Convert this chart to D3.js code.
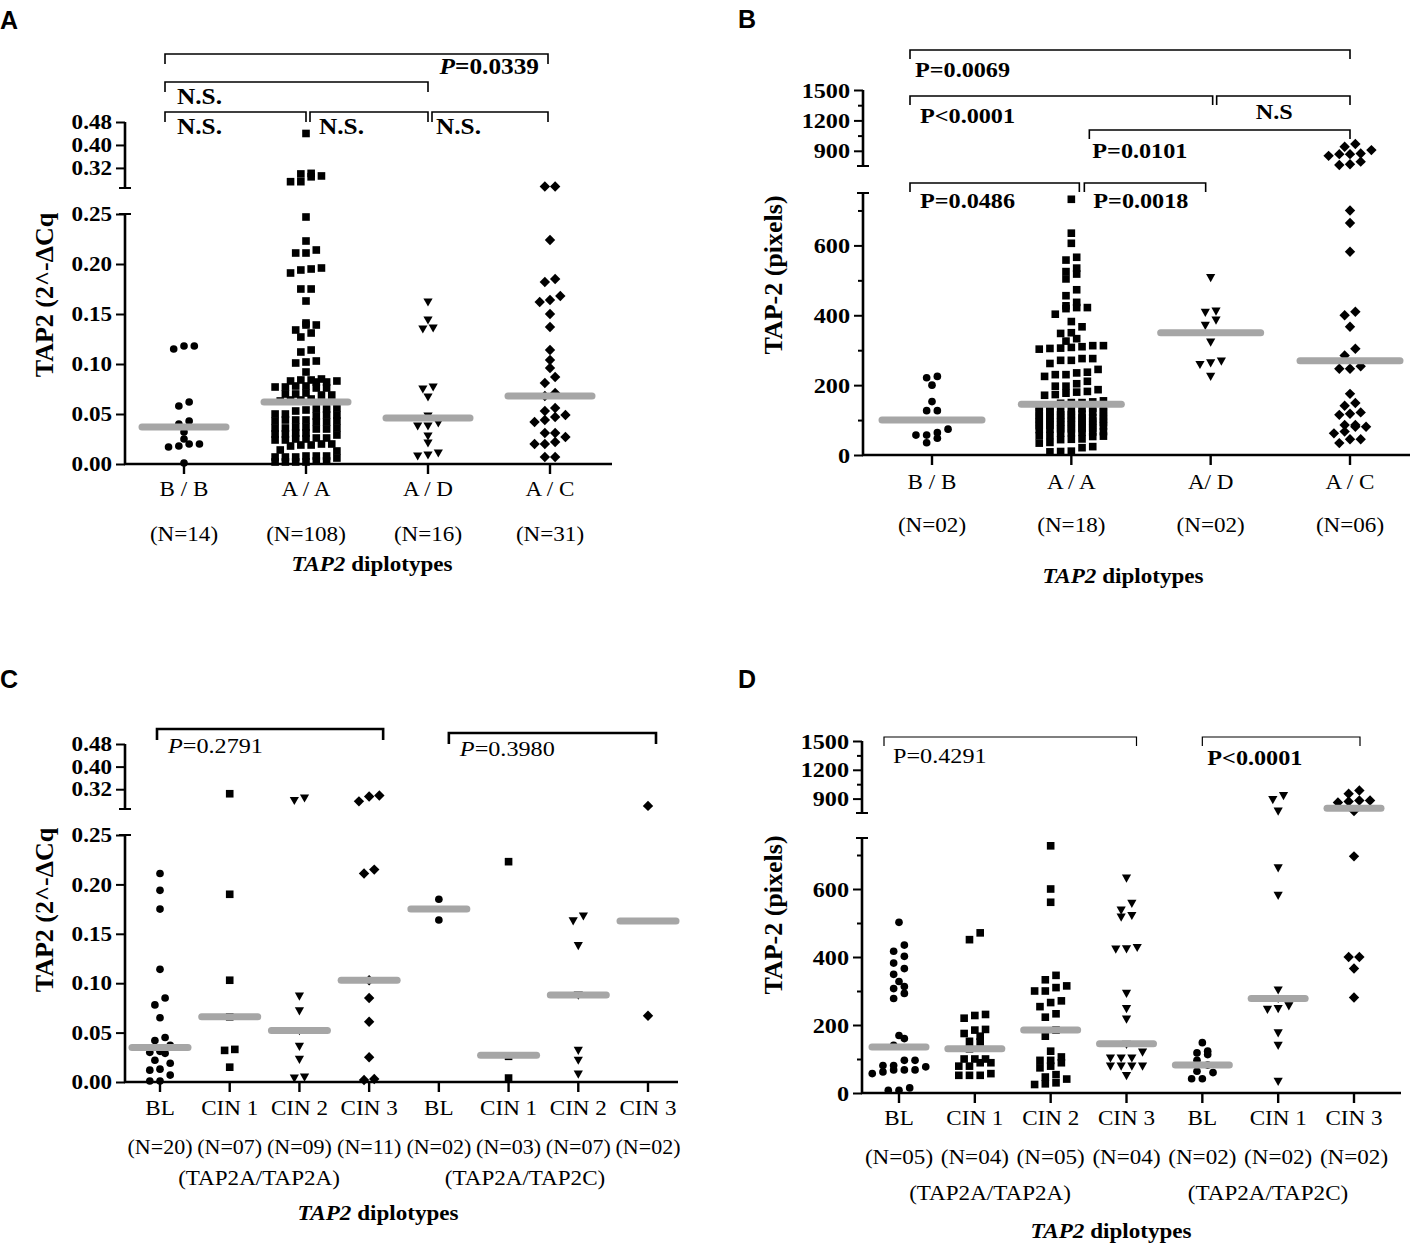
<!DOCTYPE html>
<html>
<head>
<meta charset="utf-8">
<script src="https://cdn.jsdelivr.net/npm/d3@7"></script>
<style>
  body { margin: 0; background: #fff; }
  text { font-family: "Liberation Serif", "Times New Roman", serif; fill: #000; }
</style>
</head>
<body>
<script>
// ---------- data ----------
// Panel A: TAP2 (2^-dCq) by diplotype
const aCats = ["B / B", "A / A", "A / D", "A / C"];
const aN = ["(N=14)", "(N=108)", "(N=16)", "(N=31)"];
const aBB = [0.118, 0.115, 0.118, 0.062, 0.058, 0.043, 0.040, 0.032, 0.025, 0.020, 0.018, 0.017, 0.020, 0.001];
const aAA = [0.440, 0.301, 0.292, 0.272, 0.272, 0.289, 0.299,
  0.247, 0.223, 0.214, 0.211, 0.211, 0.196, 0.194, 0.191, 0.195,
  0.175, 0.175, 0.163, 0.141, 0.139, 0.139, 0.131, 0.127, 0.134,
  0.114, 0.112, 0.102, 0.103, 0.101, 0.092,
  0.083, 0.084, 0.082, 0.085, 0.084, 0.083, 0.082,
  0.077, 0.078, 0.076, 0.077, 0.078, 0.076,
  0.069, 0.070, 0.071, 0.069, 0.070, 0.064, 0.065, 0.063, 0.064,
  0.055, 0.054, 0.056, 0.053, 0.055, 0.049, 0.050, 0.048, 0.049, 0.050,
  0.044, 0.043, 0.042, 0.044, 0.043, 0.042, 0.044,
  0.037, 0.036, 0.035, 0.036, 0.037, 0.035, 0.036,
  0.030, 0.031, 0.029, 0.030, 0.031, 0.026, 0.025, 0.024, 0.025, 0.026, 0.024,
  0.020, 0.019, 0.018, 0.020, 0.019, 0.014, 0.013,
  0.008, 0.007, 0.008, 0.006, 0.007, 0.008, 0.007,
  0.002, 0.003, 0.002, 0.002, 0.003, 0.002];
const aAD = [0.162, 0.144, 0.135, 0.136, 0.077, 0.075, 0.067, 0.048, 0.041, 0.038, 0.038, 0.028, 0.021, 0.011, 0.008, 0.009];
const aAC = [0.255, 0.255, 0.224, 0.182, 0.185, 0.164, 0.162, 0.168, 0.150, 0.137, 0.114, 0.104, 0.096,
  0.081, 0.087, 0.071, 0.068, 0.056, 0.049, 0.053, 0.044, 0.042, 0.047, 0.027, 0.031, 0.031,
  0.020, 0.020, 0.022, 0.007, 0.007];
const aMed = [0.037, 0.062, 0.046, 0.068];
const aLoTicks = [0, 0.05, 0.10, 0.15, 0.20, 0.25];
const aUpTicks = [0.32, 0.40, 0.48];
const aBrackets = [
  { from: 0, to: 3, label: [["P", "i"], "=0.0339"] },
  { from: 0, to: 2, label: ["N.S."] },
  { from: 0, to: 1, label: ["N.S."] },
  { from: 1, to: 2, label: ["N.S."] },
  { from: 2, to: 3, label: ["N.S."] }
];

// Panel B: TAP-2 (pixels) by diplotype
const bCats = ["B / B", "A / A", "A/ D", "A / C"];
const bN = ["(N=02)", "(N=18)", "(N=02)", "(N=06)"];
const bBB = [225, 221, 200, 153, 127, 127, 64, 74, 57, 48, 57, 35];
const bAA = [732, 635, 606, 566, 558, 535, 518, 525, 504, 473, 456, 437, 422, 419, 422, 427, 403, 382, 367, 350, 348, 333, 326,
  313, 308, 305, 313, 306, 303, 310, 276, 271, 262, 271, 276, 245, 237, 230, 225, 230, 235,
  211, 204, 197, 197, 182, 180, 187, 173, 171, 177, 150, 152, 148, 155, 150,
  136, 134, 137, 133, 135, 126, 124, 125, 127, 123, 125, 116, 114, 115, 117, 113, 115,
  106, 104, 105, 107, 103, 105, 106, 96, 94, 95, 97, 93, 95, 96, 86, 84, 85, 87, 83, 85, 86,
  76, 74, 75, 77, 73, 75, 66, 64, 65, 67, 63, 56, 54, 55, 53, 46, 44, 45, 36, 34, 24, 21, 10, 9, 11];
const bAD = [508, 408, 412, 386, 371, 323, 269, 264, 259, 225];
const bAC = [940, 850, 867, 867, 873, 907, 967, 767, 760, 793, 700, 664, 582, 410, 400, 367, 304, 285,
  254, 247, 247, 175, 149, 141, 122, 115, 118, 86, 81, 81, 86, 67, 62, 45, 34, 45];
const bMed = [100, 145, 350, 270];
const bLoTicks = [0, 200, 400, 600];
const bLoMinor = [100, 300, 500, 700];
const bUpTicks = [900, 1200, 1500];
const bUpMinor = [1050, 1350];
const bBrackets = [
  { from: 0, to: 3, label: ["P=0.0069"] },
  { from: 0, to: 2, label: ["P<0.0001"] },
  { from: 2, to: 3, label: ["N.S"] },
  { from: 1, to: 3, label: ["P=0.0101"] },
  { from: 0, to: 1, label: ["P=0.0486"] },
  { from: 1, to: 2, label: ["P=0.0018"] }
];

// Panel C: TAP2 (2^-dCq) by lesion grade within diplotype
const cCats = ["BL", "CIN 1", "CIN 2", "CIN 3", "BL", "CIN 1", "CIN 2", "CIN 3"];
const cN = ["(N=20)", "(N=07)", "(N=09)", "(N=11)", "(N=02)", "(N=03)", "(N=07)", "(N=02)"];
const cGroups = ["(TAP2A/TAP2A)", "(TAP2A/TAP2C)"];
const cBL1 = [0.211, 0.194, 0.175, 0.114, 0.085, 0.078, 0.065, 0.042, 0.045, 0.037, 0.030, 0.031, 0.029, 0.022, 0.019, 0.013, 0.012, 0.007, 0.001, 0.001];
const cCIN1a = [0.304, 0.190, 0.103, 0.066, 0.033, 0.032, 0.015];
const cCIN2a = [0.280, 0.289, 0.087, 0.072, 0.052, 0.036, 0.023, 0.004, 0.005];
const cCIN3a = [0.298, 0.277, 0.294, 0.215, 0.211, 0.103, 0.085, 0.061, 0.025, 0.002, 0.003];
const cBL2 = [0.185, 0.164];
const cCIN1b = [0.223, 0.026, 0.004];
const cCIN2b = [0.163, 0.168, 0.138, 0.088, 0.032, 0.022, 0.008];
const cCIN3b = [0.261, 0.067];
const cMed = [0.035, 0.066, 0.052, 0.103, 0.175, 0.027, 0.088, 0.163];
const cBrackets = [
  { from: 0, to: 3, label: [["P", "i"], "=0.2791"] },
  { from: 4, to: 7, label: [["P", "i"], "=0.3980"] }
];

// Panel D: TAP-2 (pixels) by lesion grade within diplotype
const dCats = ["BL", "CIN 1", "CIN 2", "CIN 3", "BL", "CIN 1", "CIN 3"];
const dN = ["(N=05)", "(N=04)", "(N=05)", "(N=04)", "(N=02)", "(N=02)", "(N=02)"];
const dGroups = ["(TAP2A/TAP2A)", "(TAP2A/TAP2C)"];
const dBL1 = [502, 435, 417, 402, 382, 366, 349, 328, 313, 307, 293, 278, 169, 160, 140, 96, 96, 77, 81, 81, 68, 62, 57, 68, 68, 15, 8, 8];
const dCIN1a = [471, 451, 231, 220, 228, 187, 175, 185, 167, 150, 152, 130, 100, 89, 89, 100, 100, 79, 79, 52, 52, 52, 57];
const dCIN2a = [727, 600, 561, 346, 333, 310, 300, 300, 315, 271, 266, 254, 233, 223, 185, 167, 123, 96, 106, 96, 89, 79, 74, 47, 54, 30, 25, 27, 41];
const dCIN3a = [632, 558, 538, 522, 517, 428, 423, 424, 293, 248, 217, 143, 120, 103, 103, 103, 79, 79, 79, 79, 51];
const dBL2 = [148, 123, 118, 113, 96, 82, 64, 60, 42, 42];
const dCIN1b = [931, 890, 770, 662, 581, 303, 278, 248, 246, 256, 177, 140, 34];
const dCIN3b = [985, 950, 880, 870, 880, 860, 770, 696, 400, 400, 366, 281];
const dMed = [135, 130, 185, 145, 82, 278, 800];
const dBrackets = [
  { from: 0, to: 3, label: ["P=0.4291"] },
  { from: 4, to: 6, label: [["P<0.0001", "b"]] }
];

// ---------- drawing ----------
const W = 1416, H = 1244;
const SX = 1.1;   // the source figure's text is a little wide

const svg = d3.select("body").append("svg")
  .attr("width", W)
  .attr("height", H);
svg.append("rect").attr("width", W).attr("height", H).attr("fill", "#fff");

const shapes = {
  circle: d3.symbol(d3.symbolCircle, 46)(),
  square: d3.symbol(d3.symbolSquare, 58)(),
  tri: "M-4.6,-3.6L4.6,-3.6L0,4.6Z",
  diamond: "M0,-5.2L5.2,0L0,5.2L-5.2,0Z"
};

// horizontal text, parts = strings or [string, "i"/"b"/"bi"]
function label(x, y, parts, o = {}) {
  const t = svg.append("text")
    .attr("transform", `translate(${x},${y}) scale(${SX},1)`)
    .attr("text-anchor", o.anchor || "start")
    .style("font-size", (o.size || 21) + "px")
    .style("font-weight", o.bold ? "bold" : "normal");
  parts.forEach(p => {
    const s = typeof p === "string" ? [p, ""] : p;
    t.append("tspan").text(s[0])
      .style("font-style", s[1].includes("i") ? "italic" : null)
      .style("font-weight", s[1].includes("b") ? "bold" : null);
  });
  return t;
}

// Prism-like scatter: points of similar value sit side by side
function swarm(vals, y, step) {
  const pts = vals.map(v => ({ v, y: y(v) })).sort((a, b) => b.y - a.y);
  let row = null;
  const rows = [];
  pts.forEach(p => {
    if (!row || row[0].y - p.y >= 7 || row.length >= 7) { row = []; rows.push(row); }
    row.push(p);
  });
  rows.forEach(r => r.forEach((p, i) => { p.dx = (i - (r.length - 1) / 2) * step; }));
  return pts;
}

function panel(p) {
  const g = svg.append("g");
  const x = d3.scalePoint().domain(d3.range(p.cats.length)).range(p.xr);
  const yLo = d3.scaleLinear().domain(p.lo).range(p.loR);
  const yUp = d3.scaleLinear().domain(p.up).range(p.upR);
  const y = v => v > p.lo[1] ? yUp(v) : yLo(v);

  // y axis ticks (two segments)
  function ticks(scale, values, size, fmt) {
    const ax = g.append("g")
      .attr("transform", `translate(${p.ax},0)`)
      .call(d3.axisLeft(scale).tickValues(values).tickSize(size).tickSizeOuter(0).tickFormat(fmt));
    ax.select(".domain").remove();
    ax.selectAll("line").attr("stroke", "#000").attr("stroke-width", 2);
    ax.selectAll("text")
      .attr("x", -13 / SX)
      .attr("transform", `scale(${SX},1)`)
      .style("font-size", p.tickSize + "px")
      .style("font-weight", "bold");
  }
  ticks(yLo, p.loTicks, 9, p.fmt);
  ticks(yUp, p.upTicks, 9, p.fmt);
  if (p.loMinor) ticks(yLo, p.loMinor, 5, () => "");
  if (p.upMinor) ticks(yUp, p.upMinor, 5, () => "");

  const line = (x1, y1, x2, y2, w) => g.append("line")
    .attr("x1", x1).attr("y1", y1).attr("x2", x2).attr("y2", y2)
    .attr("stroke", "#000").attr("stroke-width", w);

  line(p.ax, p.loR[0] + 1, p.ax, p.loR[1], 2.6);
  line(p.ax, p.upR[0], p.ax, p.upR[1], 2.6);
  line(p.ax - 6, p.loR[1], p.ax + 6, p.loR[1], 2);
  line(p.ax - 6, p.upR[0], p.ax + 6, p.upR[0], 2);
  line(p.ax - 1, p.loR[0], p.xEnd, p.loR[0], 2.6);

  // category ticks and labels
  p.cats.forEach((c, i) => {
    line(x(i), p.loR[0], x(i), p.loR[0] + 10, 2.4);
    label(x(i), p.catY, [c], { anchor: "middle", size: 21 });
    label(x(i), p.nY, [p.ns[i]], { anchor: "middle", size: p.nSize || 21 });
  });
  if (p.groups) {
    p.groups.forEach((t, i) => label(p.groupX[i], p.groupY, [t], { anchor: "middle", size: 21 }));
  }
  label(p.title[0], p.title[1], [["TAP2", "i"], " diplotypes"], { anchor: "middle", size: 21, bold: true });

  svg.append("text")
    .attr("transform", `translate(${p.ylab[0]},${p.ylab[1]}) rotate(-90)`)
    .attr("text-anchor", "middle")
    .style("font-size", "26px")
    .style("font-weight", "bold")
    .text(p.ylab[2]);

  svg.append("text")
    .attr("x", p.letter[1]).attr("y", p.letter[2])
    .style("font-family", "'Liberation Sans', Arial, sans-serif")
    .style("font-size", "25px")
    .style("font-weight", "bold")
    .text(p.letter[0]);

  // points
  p.series.forEach((vals, i) => {
    g.append("g").selectAll("path")
      .data(swarm(vals, y, p.step))
      .join("path")
      .attr("d", shapes[p.shapes[i]])
      .attr("transform", d => `translate(${x(i) + d.dx},${d.y})`)
      .attr("fill", "#000");
  });

  // medians
  g.append("g").selectAll("line")
    .data(p.med)
    .join("line")
    .attr("x1", (d, i) => x(i) - p.half)
    .attr("x2", (d, i) => x(i) + p.half)
    .attr("y1", d => y(d))
    .attr("y2", d => y(d))
    .attr("stroke", "#a6a6a6")
    .attr("stroke-width", 7)
    .attr("stroke-linecap", "round");

  // significance brackets
  p.brackets.forEach((b, i) => {
    const L = p.bLayout[i];
    const x1 = x(b.from) + L[1], x2 = x(b.to) + L[2];
    const drop = p.drop;
    g.append("path")
      .attr("d", `M${x1},${L[0] + drop}V${L[0]}H${x2}V${L[0] + drop}`)
      .attr("fill", "none")
      .attr("stroke", "#000")
      .attr("stroke-width", p.bw);
    const end = L[3] === "end";
    label(end ? x2 + L[4] : x1 + L[4], L[0] + L[5], b.label,
      { anchor: end ? "end" : "start", size: p.bSize, bold: p.bBold });
  });
}

const fmt2 = d3.format(".2f");

panel({
  cats: aCats, ns: aN, series: [aBB, aAA, aAD, aAC], med: aMed,
  shapes: ["circle", "square", "tri", "diamond"],
  ax: 125, xEnd: 612, xr: [184, 550],
  lo: [0, 0.25], loR: [464, 214], up: [0.25, 0.48], upR: [188, 122],
  loTicks: aLoTicks, upTicks: aUpTicks, fmt: fmt2, tickSize: 21,
  step: 10.3, half: 42, catY: 496, nY: 541, title: [372, 571],
  ylab: [53, 295, "TAP2 (2^-ΔCq"], letter: ["A", 0, 29],
  brackets: aBrackets, bw: 1.6, drop: 10, bSize: 23, bBold: true,
  // [y, dx1, dx2, anchor, label dx, label dy]
  bLayout: [[54, -19, -2, "end", -9, 20], [82, -19, 0, "start", 12, 22],
    [112, -19, 0, "start", 12, 22], [112, 4, 0, "start", 9, 22], [112, 4, -2, "start", 4, 22]]
});

panel({
  cats: bCats, ns: bN, series: [bBB, bAA, bAD, bAC], med: bMed,
  shapes: ["circle", "square", "tri", "diamond"],
  ax: 863, xEnd: 1410, xr: [932, 1350],
  lo: [0, 750], loR: [455, 193], up: [750, 1500], upR: [166, 90],
  loTicks: bLoTicks, upTicks: bUpTicks, loMinor: bLoMinor, upMinor: bUpMinor,
  fmt: d3.format("d"), tickSize: 22,
  step: 10.7, half: 50, catY: 489, nY: 532, title: [1123, 583],
  ylab: [782, 275, "TAP-2 (pixels)"], letter: ["B", 738, 28],
  brackets: bBrackets, bw: 1.6, drop: 9, bSize: 22, bBold: true,
  bLayout: [[50, -22, 0, "start", 5, 27], [96, -22, 2, "start", 10, 27], [96, 6, 0, "start", 39, 23],
    [130, 18, 0, "start", 3, 28], [183, -22, 8, "start", 10, 25], [183, 13, -5, "start", 9, 25]]
});

panel({
  cats: cCats, ns: cN, groups: cGroups, groupX: [259, 525], groupY: 1185,
  series: [cBL1, cCIN1a, cCIN2a, cCIN3a, cBL2, cCIN1b, cCIN2b, cCIN3b], med: cMed,
  shapes: ["circle", "square", "tri", "diamond", "circle", "square", "tri", "diamond"],
  ax: 125, xEnd: 678, xr: [160, 648],
  lo: [0, 0.25], loR: [1082, 835], up: [0.25, 0.48], upR: [809, 744],
  loTicks: aLoTicks, upTicks: aUpTicks, fmt: fmt2, tickSize: 21,
  step: 10.2, half: 28, catY: 1115, nY: 1154, nSize: 20, title: [378, 1220],
  ylab: [53, 910, "TAP2 (2^-ΔCq"], letter: ["C", 0, 688],
  brackets: cBrackets, bw: 2.6, drop: 11, bSize: 22, bBold: false,
  bLayout: [[729, -3, 14, "start", 11, 24], [733, 10, 8, "start", 11, 23]]
});

panel({
  cats: dCats, ns: dN, groups: dGroups, groupX: [990, 1268], groupY: 1200,
  series: [dBL1, dCIN1a, dCIN2a, dCIN3a, dBL2, dCIN1b, dCIN3b], med: dMed,
  shapes: ["circle", "square", "square", "tri", "circle", "tri", "diamond"],
  ax: 862, xEnd: 1401, xr: [899, 1354],
  lo: [0, 750], loR: [1093, 838], up: [750, 1500], upR: [813, 741],
  loTicks: bLoTicks, upTicks: bUpTicks, loMinor: bLoMinor, upMinor: bUpMinor,
  fmt: d3.format("d"), tickSize: 22,
  step: 10.7, half: 27, catY: 1125, nY: 1164, title: [1111, 1238],
  ylab: [782, 915, "TAP-2 (pixels)"], letter: ["D", 738, 688],
  brackets: dBrackets, bw: 1.2, drop: 9, bSize: 22, bBold: false,
  bLayout: [[737, -15, 10, "start", 9, 26], [737, 0, 6, "start", 5, 28]]
});
</script>
</body>
</html>
